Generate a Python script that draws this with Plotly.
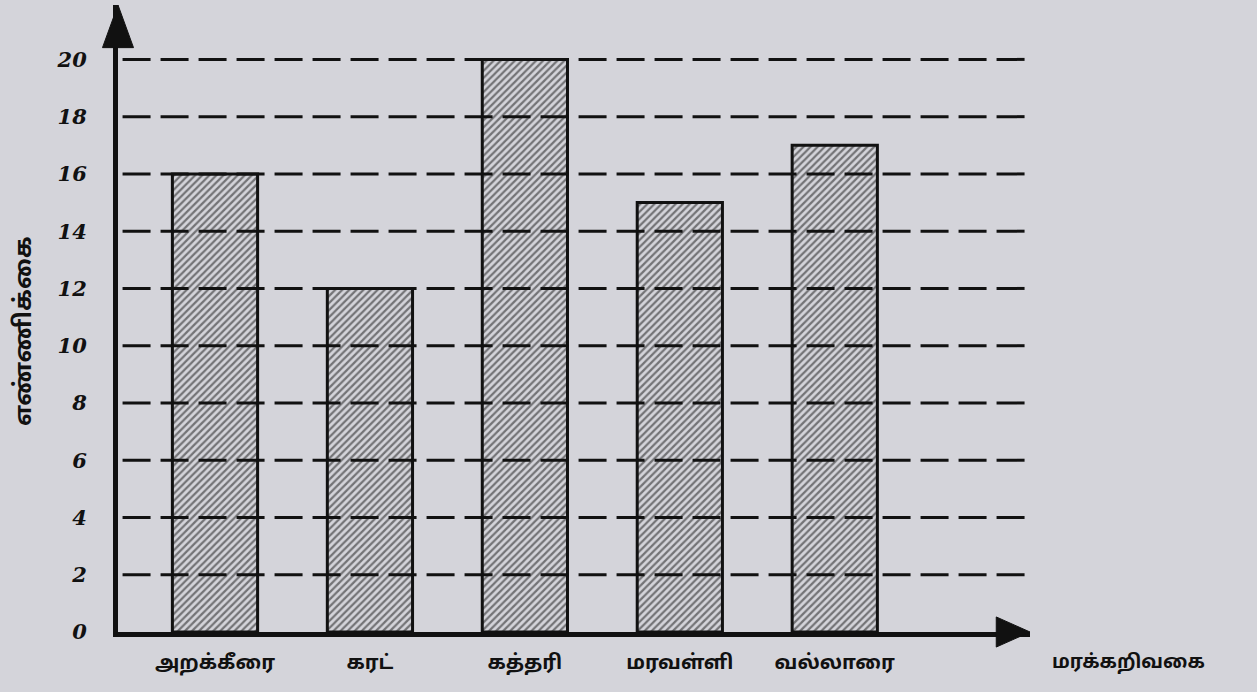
import plotly.graph_objects as go

# Vegetable types and counts
vegetables = ["அறக்கீரை", "கரட்", "கத்தரி", "மரவள்ளி", "வல்லாரை"]
counts = [16, 12, 20, 15, 17]
y_ticks = [0, 2, 4, 6, 8, 10, 12, 14, 16, 18, 20]
y_title = "எண்ணிக்கை"
x_title = "மரக்கறிவகை"

BG = "#d4d4da"
INK = "#111111"
TAMIL = "Noto Sans Tamil, Noto Sans, Lohit Tamil, sans-serif"

fig = go.Figure()
fig.add_trace(go.Bar(
    x=vegetables,
    y=counts,
    width=0.55,
    marker=dict(
        color=BG,
        line=dict(color=INK, width=3),
        pattern=dict(shape="/", fgcolor=INK, bgcolor=BG, size=5, solidity=0.45),
    ),
    showlegend=False,
))

# dashed guide lines drawn over the bars
for t in y_ticks[1:]:
    fig.add_shape(type="line", xref="paper", yref="y", x0=0.005, x1=1.0, y0=t, y1=t,
                  line=dict(color=INK, width=3, dash="28px,10px"), layer="above")

# arrowheads on both axes
fig.add_shape(type="path", xref="paper", yref="paper",
              path="M -0.017 0.932 L 0.017 0.932 L 0 1.0 Z",
              fillcolor=INK, line=dict(color=INK, width=1), layer="above")
fig.add_shape(type="path", xref="paper", yref="paper",
              path="M 0.963 0.024 L 0.963 -0.024 L 1.0 0 Z",
              fillcolor=INK, line=dict(color=INK, width=1), layer="above")

fig.add_annotation(text=y_title, xref="paper", yref="paper", x=-0.102, y=0.48,
                   xanchor="center", yanchor="middle",
                   textangle=-90, showarrow=False,
                   font=dict(family=TAMIL, size=24, color=INK, weight="bold"))
fig.add_annotation(text=x_title, xref="paper", yref="paper", x=1.108, y=-0.05,
                   xanchor="center", yanchor="middle",
                   showarrow=False,
                   font=dict(family=TAMIL, size=19, color=INK, weight="bold"))

fig.update_layout(
    width=1257, height=692,
    margin=dict(l=118, r=227, t=5, b=60),
    paper_bgcolor=BG, plot_bgcolor=BG,
    bargap=0.45,
    xaxis=dict(
        range=[-0.626, 5.26], showgrid=False, zeroline=False,
        showline=True, linecolor=INK, linewidth=5,
        ticks="", tickfont=dict(family=TAMIL, size=20, color=INK, weight="bold"),
        ticklabelstandoff=8,
    ),
    yaxis=dict(
        range=[0, 21.9], tickvals=y_ticks, showgrid=False, zeroline=False,
        showline=True, linecolor=INK, linewidth=5,
        ticks="", ticklabelstandoff=22,
        tickfont=dict(family="DejaVu Serif", size=21, color=INK, weight="bold", style="italic"),
    ),
)

fig.write_html("out.html")
